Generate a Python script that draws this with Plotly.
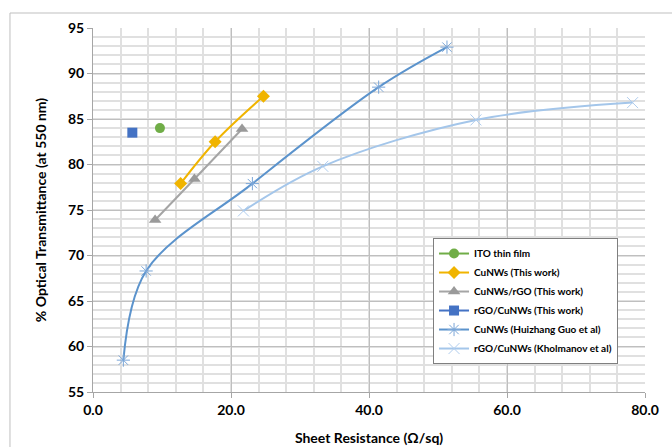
import plotly.graph_objects as go

# ---- data ----
ito_x = [9.7]
ito_y = [84.0]

cunw_x = [12.7, 17.7, 24.7]
cunw_y = [77.9, 82.5, 87.5]

cunw_rgo_x = [9.0, 14.7, 21.6]
cunw_rgo_y = [73.9, 78.4, 83.9]

rgo_cunw_x = [5.7]
rgo_cunw_y = [83.5]

guo_x = [4.4, 7.7, 23.1, 41.4, 51.3]
guo_y = [58.5, 68.3, 77.9, 88.5, 92.9]

khol_x = [21.8, 33.3, 55.5, 78.2]
khol_y = [74.9, 79.8, 84.9, 86.8]

x_ticks = [0, 20, 40, 60, 80]
x_tick_labels = ["0.0", "20.0", "40.0", "60.0", "80.0"]
y_ticks = [55, 60, 65, 70, 75, 80, 85, 90, 95]

FONT = "Lato"

fig = go.Figure()

fig.add_trace(go.Scatter(x=ito_x, y=ito_y, mode="lines+markers", name="ITO thin film",
                         line=dict(color="#70AD47", width=2),
                         marker=dict(symbol="circle", size=10, color="#70AD47")))
fig.add_trace(go.Scatter(x=cunw_x, y=cunw_y, mode="lines+markers", name="CuNWs (This work)",
                         line=dict(color="#F0B400", width=2, shape="spline"),
                         marker=dict(symbol="diamond", size=10, color="#F0B400")))
fig.add_trace(go.Scatter(x=cunw_rgo_x, y=cunw_rgo_y, mode="lines+markers", name="CuNWs/rGO (This work)",
                         line=dict(color="#A5A5A5", width=2, shape="spline"),
                         marker=dict(symbol="triangle-up", size=11, color="#9A9A9A")))
fig.add_trace(go.Scatter(x=rgo_cunw_x, y=rgo_cunw_y, mode="lines+markers", name="rGO/CuNWs (This work)",
                         line=dict(color="#4472C4", width=2),
                         marker=dict(symbol="square", size=10, color="#4472C4")))
fig.add_trace(go.Scatter(x=guo_x, y=guo_y, mode="lines+markers", name="CuNWs (Huizhang Guo et al)",
                         line=dict(color="#5B93CC", width=2, shape="spline"),
                         marker=dict(symbol="asterisk-open", size=11, color="#7AA6D8",
                                     line=dict(width=1, color="#7AA6D8"))))
fig.add_trace(go.Scatter(x=khol_x, y=khol_y, mode="lines+markers", name="rGO/CuNWs (Kholmanov et al)",
                         line=dict(color="#A4C6EA", width=2, shape="spline"),
                         marker=dict(symbol="x-thin-open", size=11, color="#B0CDEE",
                                     line=dict(width=1, color="#B0CDEE"))))

fig.update_layout(
    width=672, height=447,
    margin=dict(l=93, r=27, t=28, b=55),
    paper_bgcolor="white", plot_bgcolor="white",
    font=dict(family=FONT, color="#000000"),
    showlegend=True,
    legend=dict(x=0.616, y=0.423, xanchor="left", yanchor="top",
                bgcolor="white", bordercolor="#7F7F7F", borderwidth=1,
                font=dict(family=FONT, size=10, color="#000000", weight="bold"),
                itemwidth=30, tracegroupgap=0),
    xaxis=dict(range=[0, 80], tickvals=x_ticks, ticktext=x_tick_labels,
               automargin=False,
               showgrid=True, gridcolor="#BFBFBF", gridwidth=1,
               minor=dict(dtick=4, showgrid=True, gridcolor="#E0E0E0", gridwidth=1.5),
               showline=True, linecolor="#A6A6A6", linewidth=1,
               ticks="outside", ticklen=5, tickcolor="#A6A6A6",
               tickfont=dict(family=FONT, size=14, color="#000000", weight="bold"),
               zeroline=False,
               title=dict(text="Sheet Resistance (Ω/sq)", standoff=16,
                          font=dict(family=FONT, size=14, color="#000000", weight="bold"))),
    yaxis=dict(range=[55, 95], tickvals=y_ticks,
               automargin=False,
               showgrid=True, gridcolor="#BFBFBF", gridwidth=1,
               minor=dict(dtick=1, showgrid=True, gridcolor="#E0E0E0", gridwidth=1.5),
               showline=True, linecolor="#A6A6A6", linewidth=1,
               ticks="outside", ticklen=5, tickcolor="#A6A6A6",
               tickfont=dict(family=FONT, size=14, color="#000000", weight="bold"),
               zeroline=False,
               title=dict(text="% Optical Transmittance (at 550 nm)", standoff=18,
                          font=dict(family=FONT, size=14, color="#000000", weight="bold"))),
    shapes=[dict(type="rect", xref="paper", yref="paper",
                 x0=-0.1504, x1=1.07, y0=-0.2, y1=1.0412,
                 line=dict(color="#BFBFBF", width=1), fillcolor="rgba(0,0,0,0)", layer="below")],
)

fig.write_html("out.html", config={"displayModeBar": False},
               post_script="document.body.style.margin='0';document.body.style.overflow='hidden';")
